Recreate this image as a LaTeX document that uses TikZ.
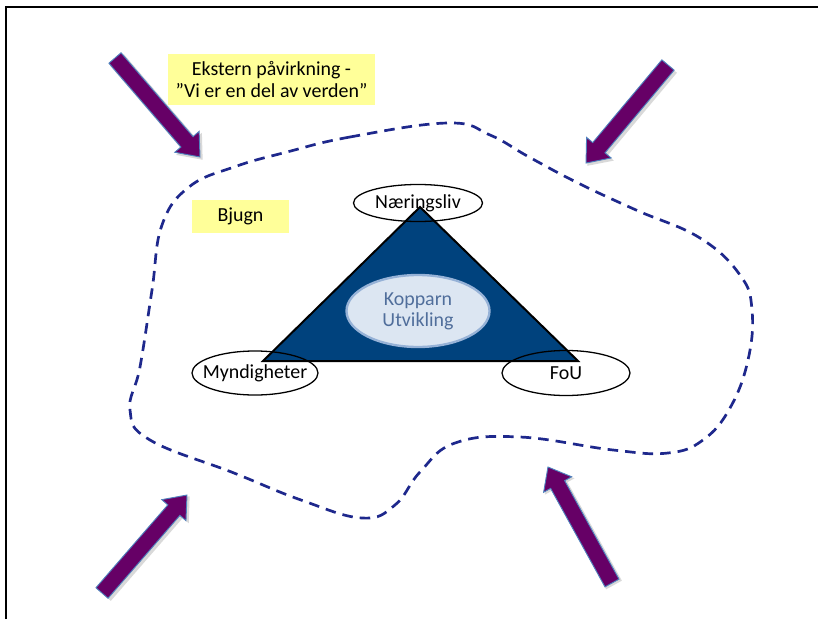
\documentclass[tikz,border=0pt]{standalone}
\usepackage{fontspec}
\setmainfont{Carlito}
\usetikzlibrary{shapes.geometric}

\definecolor{pushpurple}{RGB}{102,0,102}
\definecolor{pushedge}{RGB}{79,129,189}
\definecolor{regionblue}{RGB}{30,40,140}
\definecolor{triblue}{RGB}{0,66,125}
\definecolor{corefill}{RGB}{220,230,242}
\definecolor{coreedge}{RGB}{150,178,215}
\definecolor{coretext}{RGB}{80,110,155}
\definecolor{notepale}{RGB}{255,255,153}

\tikzset{
  label font/.style={font=\fontsize{17}{18}\selectfont},
  actor/.style={draw, ellipse, line width=1.1pt, inner sep=0pt},
  note/.style={fill=notepale, align=center, inner sep=0pt, label font},
  region/.style={draw=regionblue, line width=2.3pt, dash pattern=on 9pt off 6pt},
  pusharrow/.style={fill=pushpurple, draw=pushedge, line width=0.8pt, line join=miter},
  pushshadow/.style={fill=black, opacity=0.15},
}

\begin{document}
\begin{tikzpicture}[x=0.03cm, y=-0.03cm]
  \useasboundingbox (0,0) rectangle (818,619);

  % frame
  \draw[line width=1.8pt] (6,619) -- (6,7) -- (818,7);

  % the Bjugn region
  \draw[region] plot[smooth cycle, tension=0.7] coordinates {
    (448,123) (350,137) (287,152) (234,167) (189,187) (162,225) (152,290)
    (140,367) (130,410) (150,440) (234,473) (301,500) (362,518) (395,505)
    (420,472) (455,443) (520,437) (613,450) (668,453) (703,440) (730,408)
    (748,360) (752,310) (740,275) (700,238) (636,210) (578,183) (529,157)
    (490,135)};

  % notes
  \node[note, minimum width=6.21cm, minimum height=1.53cm] (ekstern) at (271.5,79.5)
    {Ekstern påvirkning -\\”Vi er en del av verden”};
  \node[note, minimum width=2.91cm, minimum height=0.99cm] (bjugn) at (240.5,216.5) {Bjugn};

  % triangle
  \coordinate (t-top) at (420,207);
  \coordinate (t-left) at (263,361);
  \coordinate (t-right) at (578,361);
  \filldraw[fill=triblue, line width=1.7pt, line join=miter] (t-top) -- (t-left) -- (t-right) -- cycle;

  % core
  \node[ellipse, fill=corefill, draw=coreedge, line width=2pt, text=coretext, align=center,
        minimum width=4.29cm, minimum height=2.16cm, inner sep=0pt, label font] (kopparn)
        at (418,311) {Kopparn\\Utvikling};

  % actors
  \node[actor, minimum width=3.87cm, minimum height=1.11cm] (naering) at (418,203) {};
  \node[actor, minimum width=3.78cm, minimum height=1.32cm] (myndig) at (255,373) {};
  \node[actor, minimum width=3.84cm, minimum height=1.35cm] (fou) at (566,373) {};
  \node[label font] (naering-text) at (naering.center) {Næringsliv};
  \node[label font] (myndig-text) at (myndig.center) {Myndigheter};
  \node[label font] (fou-text) at (fou.center) {FoU};

  % outside pressure
  \foreach \x/\y/\a/\l in {115/58/-49.35/130.5, 668/65/-129.9/127.8,
                           102/593/49.06/129.7, 612/583/118.9/132.5} {
    \begin{scope}[shift={(\x+2,\y+2)}, rotate=\a]
      \fill[pushshadow] (0,-9) -- (\l-20,-9) -- (\l-20,-17) -- (\l+1,0)
        -- (\l-20,17) -- (\l-20,9) -- (0,9) -- cycle;
    \end{scope}
    \begin{scope}[shift={(\x,\y)}, rotate=\a]
      \draw[pusharrow] (0,-8) -- (\l-20,-8) -- (\l-20,-16) -- (\l,0)
        -- (\l-20,16) -- (\l-20,8) -- (0,8) -- cycle;
    \end{scope}
  }
\end{tikzpicture}
\end{document}
